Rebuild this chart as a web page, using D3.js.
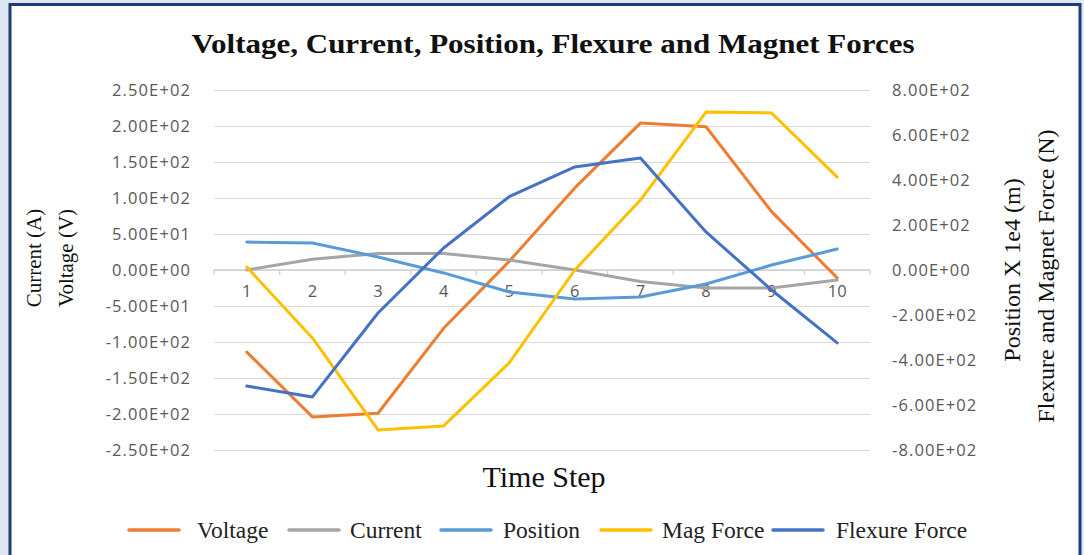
<!DOCTYPE html>
<html>
<head>
<meta charset="utf-8">
<script src="https://cdn.jsdelivr.net/npm/d3@7"></script>
<style>
  html, body { margin: 0; padding: 0; background: #dfe7f0; }
  svg { display: block; }
</style>
</head>
<body>
<svg id="chart" width="1084" height="555"></svg>
<script>
const steps = [1, 2, 3, 4, 5, 6, 7, 8, 9, 10];
const voltage = [-114, -204, -199, -81, 12, 114, 204, 199, 81, -11];
const current = [0, 15, 23, 23, 14, 0, -16, -25, -25, -14];
const position = [124, 120, 58, -13, -98, -129, -120, -62, 22, 93];
const magForce = [13, -302, -711, -693, -413, 0, 311, 702, 698, 413];
const flexureForce = [-516, -564, -191, 98, 326, 458, 498, 169, -89, -324];
const leftTicks = [250, 200, 150, 100, 50, 0, -50, -100, -150, -200, -250];
const rightTicks = [800, 600, 400, 200, 0, -200, -400, -600, -800];

const seriesList = [
  { name: "Voltage", values: voltage, axis: "left", color: "#ED7D31" },
  { name: "Current", values: current, axis: "left", color: "#A5A5A5" },
  { name: "Position", values: position, axis: "right", color: "#5B9BD5" },
  { name: "Mag Force", values: magForce, axis: "right", color: "#FFC000" },
  { name: "Flexure Force", values: flexureForce, axis: "right", color: "#4472C4" }
];

const svg = d3.select("#chart");
const fmt = v => {
  const s = d3.format(".2e")(v).toUpperCase().replace(/\u2212/g, "-");
  return s.replace(/E([+-])(\d)$/, "E$10$2");
};

// panel
svg.append("rect").attr("x", 0).attr("y", 0).attr("width", 1084).attr("height", 555).attr("fill", "#dfe7f0");
svg.append("rect").attr("x", 10).attr("y", 4.5).attr("width", 1070).attr("height", 560)
  .attr("fill", "#ffffff").attr("stroke", "#1f3b7a").attr("stroke-width", 3);

const plotL = 214, plotR = 870, plotT = 90, plotB = 450;
const x = d3.scalePoint().domain(steps).range([plotL, plotR]).padding(0.5);
const xb = d3.scaleBand().domain(steps).range([plotL, plotR]);
const yL = d3.scaleLinear().domain([-250, 250]).range([plotB, plotT]);
const yR = d3.scaleLinear().domain([-800, 800]).range([plotB, plotT]);

const tickFont = "'Open Sans', sans-serif";

// gridlines
svg.append("g").attr("transform", `translate(${plotL},0)`)
  .call(d3.axisLeft(yL).tickValues(leftTicks).tickSize(-(plotR - plotL)).tickFormat(""))
  .call(g => g.select(".domain").remove())
  .call(g => g.selectAll("line").attr("stroke", "#d9d9d9").attr("stroke-width", 1.2));

// left tick labels
svg.append("g").attr("transform", `translate(${plotL - 20},0)`)
  .call(d3.axisLeft(yL).tickValues(leftTicks).tickSize(0).tickFormat(fmt))
  .call(g => g.select(".domain").remove())
  .call(g => g.selectAll("text").attr("fill", "#595959")
    .style("font-family", tickFont).style("font-size", "16.5px").style("letter-spacing", "1.1px"));

// right tick labels
svg.append("g").attr("transform", `translate(${plotR + 22},0)`)
  .call(d3.axisRight(yR).tickValues(rightTicks).tickSize(0).tickFormat(fmt))
  .call(g => g.select(".domain").remove())
  .call(g => g.selectAll("text").attr("fill", "#595959").attr("x", 0)
    .style("font-family", tickFont).style("font-size", "16.5px").style("letter-spacing", "1.1px"));

// x axis at zero
const xAxisG = svg.append("g").attr("transform", `translate(0,${yL(0)})`);
xAxisG.append("line").attr("x1", plotL).attr("x2", plotR).attr("stroke", "#d0d0d0").attr("stroke-width", 1.3);
const bounds = steps.map(s => xb(s)).concat([xb(steps[steps.length - 1]) + xb.bandwidth()]);
xAxisG.selectAll("line.tick").data(bounds).enter().append("line").attr("class", "tick")
  .attr("x1", d => d).attr("x2", d => d).attr("y1", 0).attr("y2", 5)
  .attr("stroke", "#d0d0d0").attr("stroke-width", 1.3);
xAxisG.selectAll("text").data(steps).enter().append("text")
  .attr("x", d => x(d)).attr("y", 27).attr("text-anchor", "middle")
  .attr("fill", "#595959").style("font-family", tickFont).style("font-size", "16.5px")
  .text(d => d);

// lines
const lineL = d3.line().x((d, i) => x(steps[i])).y(d => yL(d));
const lineR = d3.line().x((d, i) => x(steps[i])).y(d => yR(d));
seriesList.forEach(s => {
  svg.append("path").datum(s.values)
    .attr("d", s.axis === "left" ? lineL : lineR)
    .attr("fill", "none").attr("stroke", s.color).attr("stroke-width", 3)
    .attr("stroke-linejoin", "round").attr("stroke-linecap", "round");
});

const serif = "'Liberation Serif', serif";

// title
svg.append("text").attr("x", 553).attr("y", 53).attr("text-anchor", "middle")
  .attr("textLength", 723).attr("lengthAdjust", "spacingAndGlyphs")
  .style("font-family", serif).style("font-weight", "bold").style("font-size", "27px")
  .attr("fill", "#111").text("Voltage, Current, Position, Flexure and Magnet Forces");

// axis titles
function vtitle(txt, cx, cy, size) {
  svg.append("text").attr("transform", `translate(${cx},${cy}) rotate(-90)`)
    .attr("text-anchor", "middle").attr("dominant-baseline", "central")
    .style("font-family", serif).style("font-size", size + "px").attr("fill", "#111").text(txt);
}
vtitle("Current (A)", 34, 258, 21);
vtitle("Voltage (V)", 66, 258, 21);
vtitle("Position X 1e4 (m)", 1012, 270, 24);
vtitle("Flexure and Magnet Force (N)", 1046, 276, 24);

svg.append("text").attr("x", 544).attr("y", 487).attr("text-anchor", "middle")
  .style("font-family", serif).style("font-size", "30px").attr("fill", "#111").text("Time Step");

// legend
const legendPos = [
  { lx: 129, tx: 197 },
  { lx: 289, tx: 350 },
  { lx: 441, tx: 503 },
  { lx: 601, tx: 662 },
  { lx: 773, tx: 836 }
];
seriesList.forEach((s, i) => {
  const p = legendPos[i];
  svg.append("line").attr("x1", p.lx).attr("x2", p.lx + 50).attr("y1", 530).attr("y2", 530)
    .attr("stroke", s.color).attr("stroke-width", 3.5).attr("stroke-linecap", "round");
  svg.append("text").attr("x", p.tx).attr("y", 538)
    .style("font-family", serif).style("font-size", "23.5px").attr("fill", "#222").text(s.name);
});
</script>
</body>
</html>
